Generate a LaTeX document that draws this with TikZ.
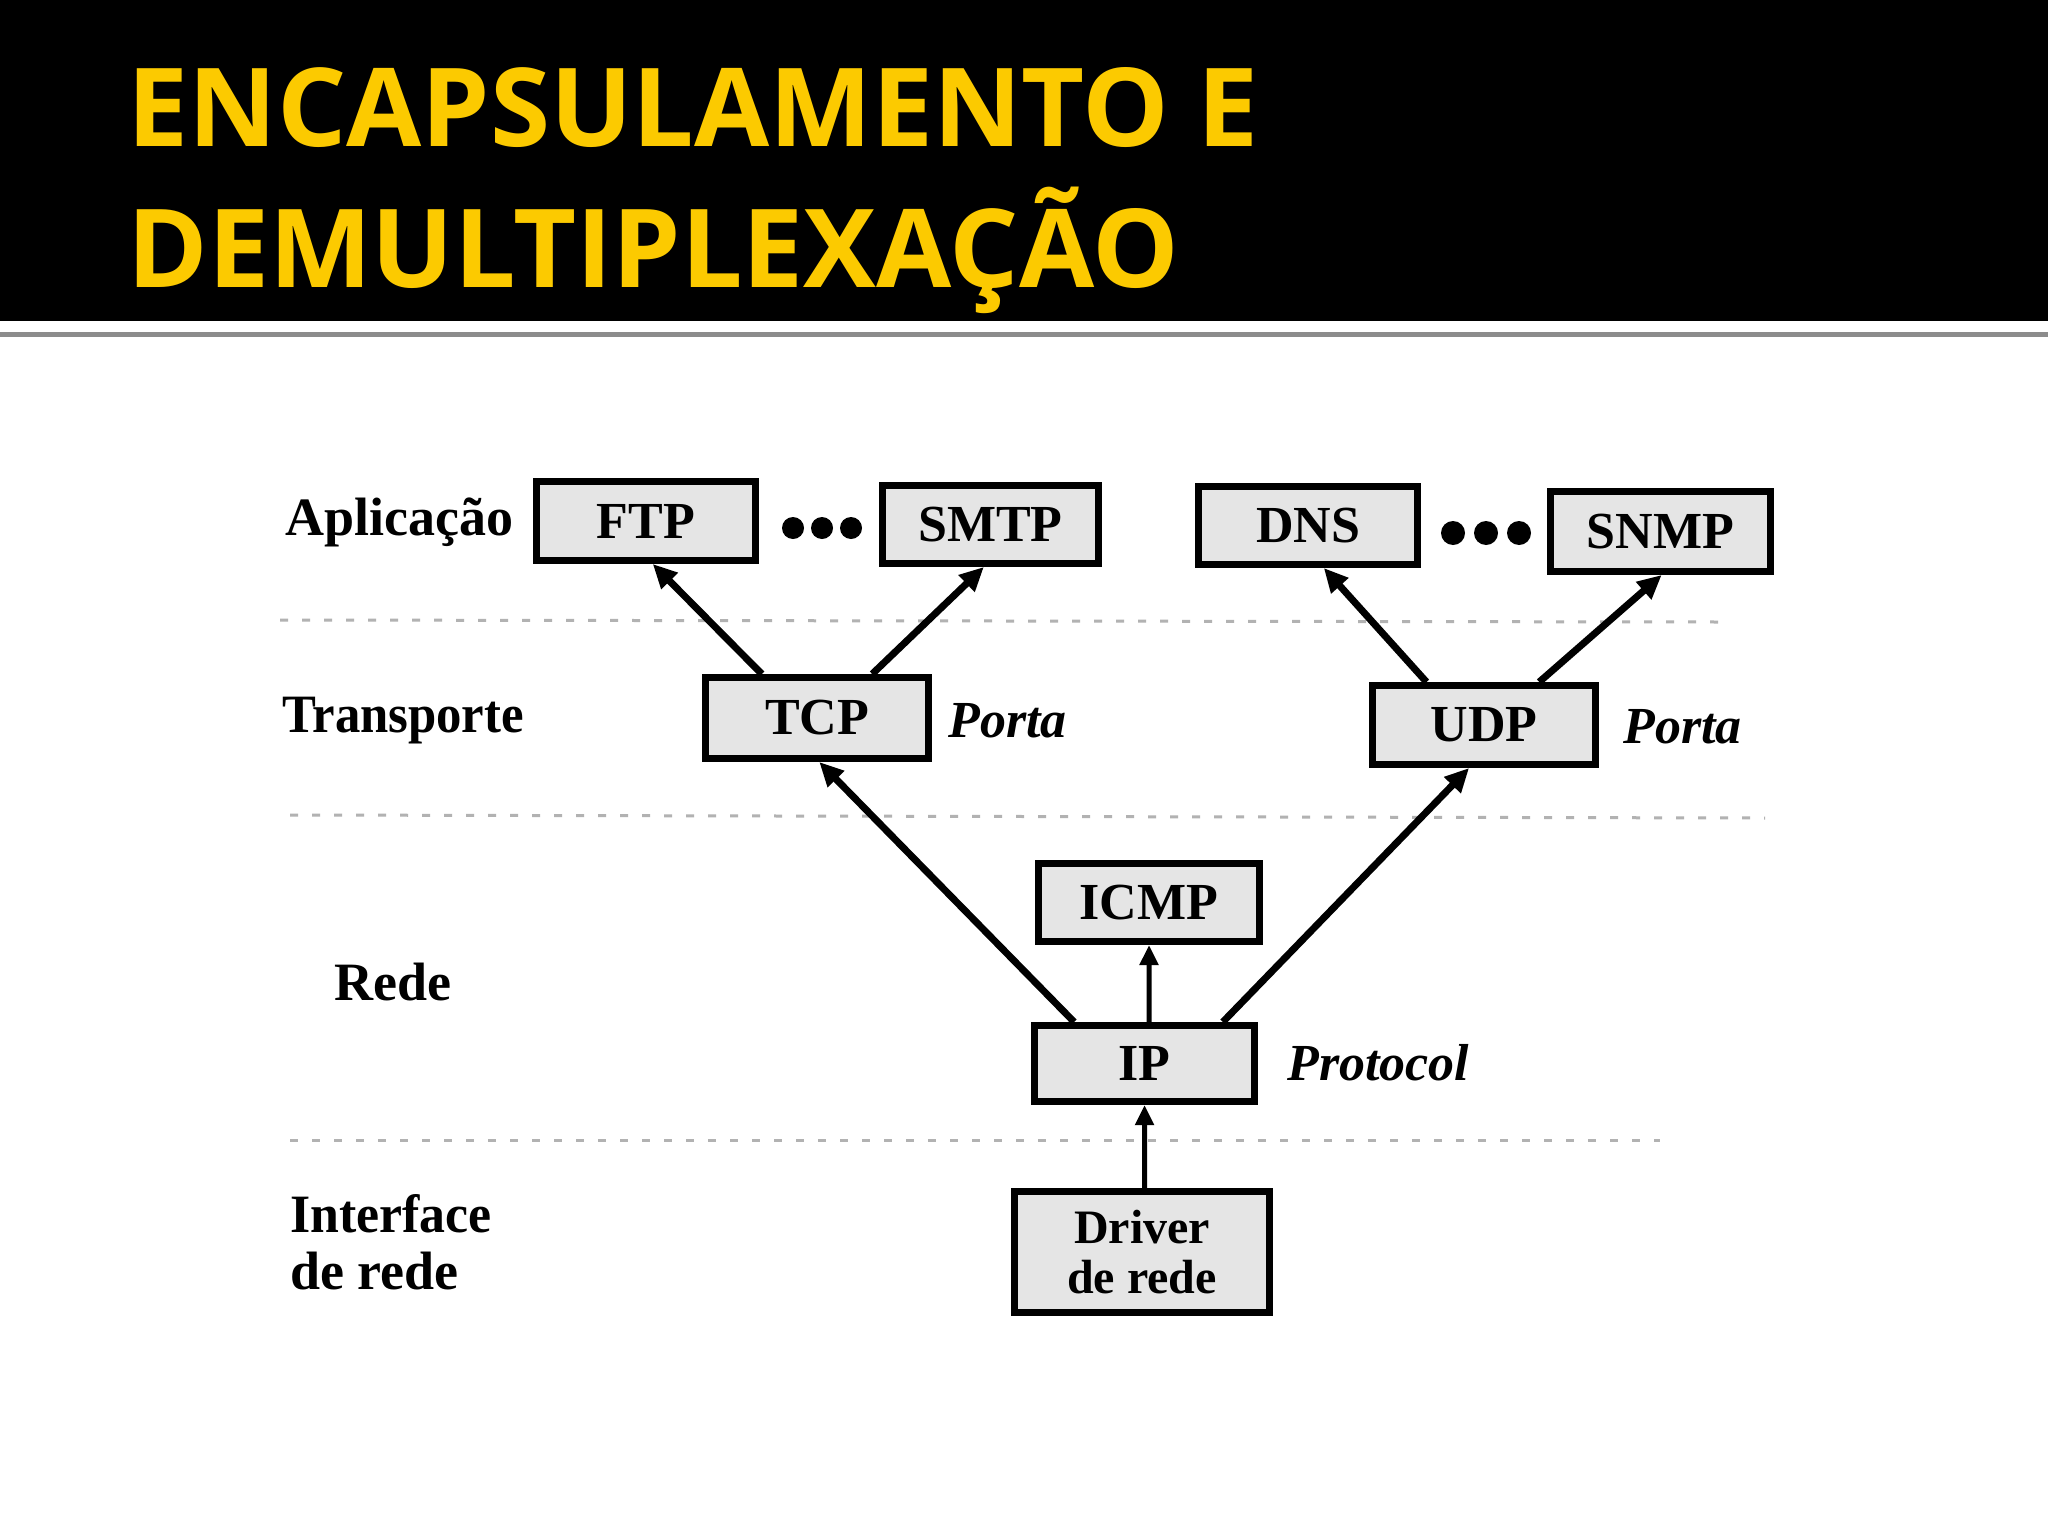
\documentclass[tikz,border=0pt]{standalone}
\usepackage{fontspec}
\setmainfont{Liberation Serif}
\newfontfamily\titlefont{Open Sans}
\usetikzlibrary{arrows.meta,calc}
\definecolor{titleyellow}{RGB}{252,202,0}
\begin{document}
\begin{tikzpicture}[x=0.5pt,y=-0.5pt,
  titletext/.style={text=titleyellow, font=\titlefont\bfseries\fontsize{54.5}{60}\selectfont, inner sep=0, anchor=base west},
  protobox/.style={draw=black, line width=3.5pt, fill=black!10, font=\bfseries\fontsize{26}{23}\selectfont, inner sep=0, align=center},
  layerlab/.style={font=\bfseries\fontsize{27}{30}\selectfont, inner sep=0, anchor=base west},
  sidelab/.style={font=\bfseries\itshape\fontsize{26}{30}\selectfont, inner sep=0, anchor=base west},
  arr/.style={line width=3.5pt, -{Triangle[length=12pt,width=11pt]}},
  thinarr/.style={line width=2.5pt, -{Triangle[length=10pt,width=9pt]}},
  sepline/.style={draw=black!30, line width=1.5pt, dash pattern=on 4pt off 7pt},
  dotmark/.style={fill=black}
]
\useasboundingbox (0,0) rectangle (2048,1536);
\fill[white] (0,0) rectangle (2048,1536);
% title bar
\fill[black] (0,0) rectangle (2048,321);
\draw[black!45, line width=2.5pt] (0,334) -- (2048,334);
\node[titletext] (t1) at (127,146) {ENCAPSULAMENTO E};
\node[titletext] (t2) at (127,287) {DEMULTIPLEXAÇÃO};

% layer separators
\draw[sepline] (280,620) -- (1720,622);
\draw[sepline] (290,815) -- (1765,818);
\draw[sepline] (290,1140) -- (1660,1140);

% layer labels
\node[layerlab] (lapp) at (285,535) {Aplicação};
\node[layerlab, xscale=0.94] (ltr) at (282,732) {Transporte};
\node[layerlab] (lnet) at (334,1000) {Rede};
\node[layerlab, xscale=0.96] (lif1) at (290,1232) {Interface};
\node[layerlab] (lif2) at (290,1289) {de rede};

% protocol boxes
\node[protobox, minimum width=109.5pt, minimum height=39.5pt] (ftp) at (646,521) {FTP};
\node[protobox, minimum width=108pt, minimum height=39pt] (smtp) at (990.5,524.5) {SMTP};
\node[protobox, minimum width=109.5pt, minimum height=39pt] (dns) at (1308,525.5) {DNS};
\node[protobox, minimum width=110pt, minimum height=40pt] (snmp) at (1660.5,531.5) {SNMP};
\node[protobox, minimum width=111.5pt, minimum height=40.5pt] (tcp) at (817,718) {TCP};
\node[protobox, minimum width=111.5pt, minimum height=39.5pt] (udp) at (1484,725) {UDP};
\node[protobox, minimum width=110.5pt, minimum height=39pt] (icmp) at (1149,902.5) {ICMP};
\node[protobox, minimum width=110pt, minimum height=38pt] (ip) at (1144.5,1063.5) {IP};
\node[protobox, minimum width=127.5pt, minimum height=60.5pt, font=\bfseries\fontsize{24}{25}\selectfont] (drv) at (1142,1252) {Driver\\de rede};

% side labels
\node[sidelab] (ptcp) at (948,737) {Porta};
\node[sidelab] (pudp) at (1623,743) {Porta};
\node[sidelab] (pip) at (1287,1080) {Protocol};

% dots
\fill[dotmark] (793,528) circle (5.5pt);
\fill[dotmark] (822,528) circle (5.5pt);
\fill[dotmark] (851,528) circle (5.5pt);
\fill[dotmark] (1453,533) circle (6pt);
\fill[dotmark] (1486,533) circle (6pt);
\fill[dotmark] (1519,533) circle (6pt);

% connectors
\draw[arr] ($(tcp.north west)!0.26!(tcp.north east)$) -- ($(ftp.south west)!0.53!(ftp.south east)$);
\draw[arr] ($(tcp.north west)!0.74!(tcp.north east)$) -- ($(smtp.south west)!0.47!(smtp.south east)$);
\draw[arr] ($(udp.north west)!0.25!(udp.north east)$) -- ($(dns.south west)!0.57!(dns.south east)$);
\draw[arr] ($(udp.north west)!0.74!(udp.north east)$) -- ($(snmp.south west)!0.505!(snmp.south east)$);
\draw[arr] ($(ip.north west)!0.19!(ip.north east)$) -- ($(tcp.south west)!0.51!(tcp.south east)$);
\draw[arr] ($(ip.north west)!0.845!(ip.north east)$) -- ($(udp.south west)!0.435!(udp.south east)$);
\draw[thinarr] ($(ip.north west)!0.52!(ip.north east)$) -- ($(icmp.south west)!0.5!(icmp.south east)$);
\draw[thinarr] ($(drv.north west)!0.51!(drv.north east)$) -- ($(ip.south west)!0.5!(ip.south east)$);
\end{tikzpicture}
\end{document}
